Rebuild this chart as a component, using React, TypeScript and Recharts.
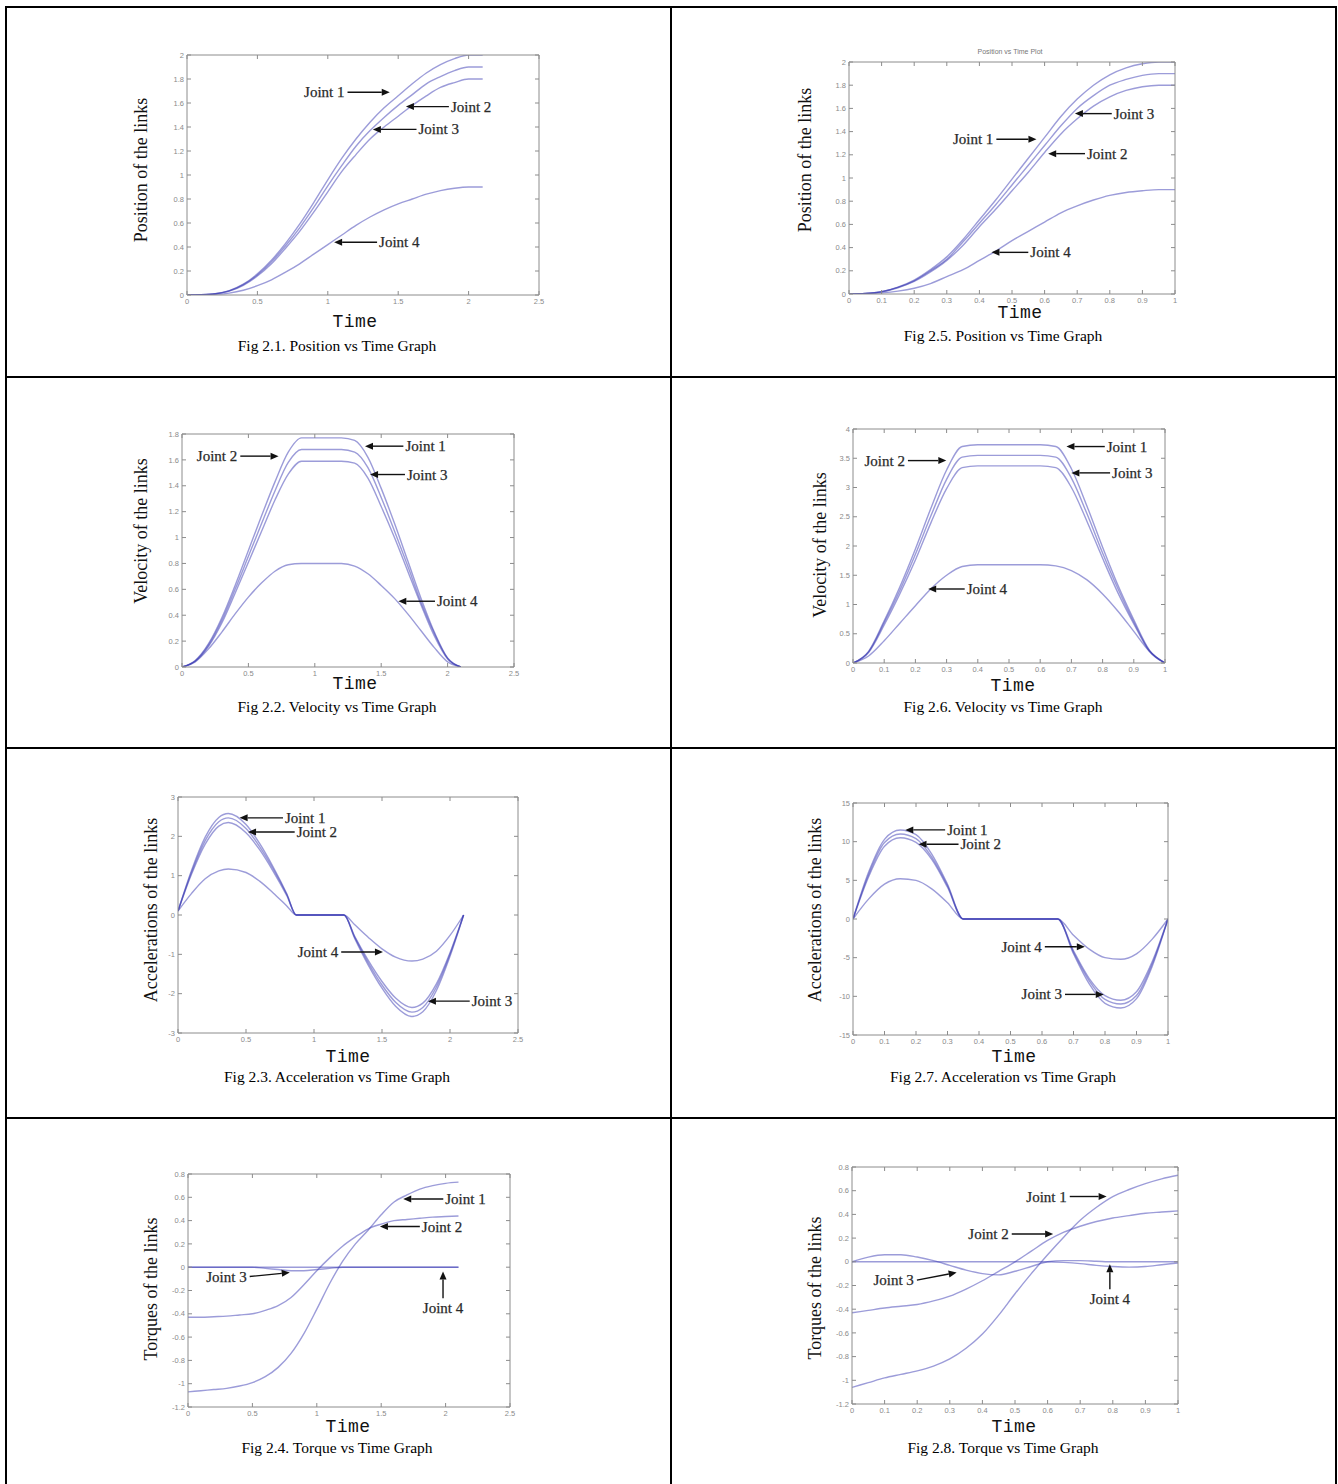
import React from 'react';
import { LineChart, Line, XAxis, YAxis, ReferenceLine } from 'recharts';

// time bases
const TIME_LONG = [0, 0.1, 0.2, 0.3, 0.4, 0.5, 0.6, 0.7, 0.8, 0.9, 1.0, 1.1, 1.2, 1.3, 1.4, 1.5, 1.6, 1.7, 1.8, 1.9, 2.0, 2.1];
const TIME_SHORT = [0, 0.05, 0.1, 0.15, 0.2, 0.25, 0.3, 0.35, 0.4, 0.45, 0.5, 0.55, 0.6, 0.65, 0.7, 0.75, 0.8, 0.85, 0.9, 0.95, 1.0];
const TIME_ACC_LONG = [0, 0.1, 0.2, 0.3, 0.37, 0.5, 0.6, 0.7, 0.8, 0.87, 1.0, 1.1, 1.22, 1.3, 1.4, 1.5, 1.6, 1.72, 1.8, 1.9, 2.0, 2.1];
const TIME_ACC_SHORT = [0, 0.05, 0.1, 0.15, 0.2, 0.25, 0.3, 0.35, 0.4, 0.5, 0.6, 0.65, 0.7, 0.75, 0.8, 0.85, 0.9, 0.95, 1.0];

// Fig 2.1 position
const POS_A_J1 = [0, 0.002, 0.01, 0.036, 0.09, 0.176, 0.29, 0.43, 0.59, 0.77, 0.96, 1.14, 1.3, 1.44, 1.56, 1.66, 1.76, 1.85, 1.92, 1.97, 2.0, 2.0];
const POS_A_J2 = [0, 0.002, 0.01, 0.034, 0.086, 0.167, 0.276, 0.41, 0.56, 0.73, 0.91, 1.08, 1.24, 1.37, 1.48, 1.58, 1.67, 1.76, 1.82, 1.87, 1.9, 1.9];
const POS_A_J3 = [0, 0.002, 0.009, 0.032, 0.081, 0.158, 0.26, 0.39, 0.53, 0.69, 0.86, 1.03, 1.17, 1.3, 1.4, 1.49, 1.58, 1.66, 1.73, 1.77, 1.8, 1.8];
const POS_A_J4 = [0, 0.001, 0.005, 0.016, 0.04, 0.078, 0.127, 0.19, 0.26, 0.34, 0.42, 0.5, 0.58, 0.65, 0.71, 0.76, 0.8, 0.84, 0.87, 0.89, 0.9, 0.9];

// Fig 2.5 position
const POS_B_J1 = [0, 0.004, 0.02, 0.06, 0.12, 0.21, 0.32, 0.47, 0.64, 0.81, 0.99, 1.17, 1.35, 1.53, 1.68, 1.8, 1.89, 1.95, 1.985, 2.0, 2.0];
const POS_B_J2 = [0, 0.004, 0.019, 0.057, 0.114, 0.2, 0.3, 0.45, 0.61, 0.77, 0.94, 1.11, 1.28, 1.45, 1.6, 1.71, 1.8, 1.85, 1.885, 1.9, 1.9];
const POS_B_J3 = [0, 0.004, 0.018, 0.054, 0.108, 0.19, 0.29, 0.42, 0.58, 0.73, 0.89, 1.05, 1.22, 1.38, 1.51, 1.62, 1.7, 1.755, 1.787, 1.8, 1.8];
const POS_B_J4 = [0, 0.002, 0.01, 0.025, 0.05, 0.09, 0.15, 0.21, 0.29, 0.37, 0.46, 0.54, 0.62, 0.7, 0.76, 0.81, 0.85, 0.875, 0.89, 0.9, 0.9];

// Fig 2.2 velocity
const VEL_A_J1 = [0, 0.05, 0.18, 0.38, 0.63, 0.9, 1.17, 1.43, 1.66, 1.77, 1.77, 1.77, 1.77, 1.75, 1.62, 1.38, 1.11, 0.82, 0.53, 0.27, 0.07, 0];
const VEL_A_J2 = [0, 0.047, 0.17, 0.36, 0.6, 0.855, 1.11, 1.36, 1.58, 1.68, 1.68, 1.68, 1.68, 1.66, 1.54, 1.31, 1.05, 0.78, 0.5, 0.26, 0.066, 0];
const VEL_A_J3 = [0, 0.045, 0.16, 0.34, 0.57, 0.81, 1.05, 1.29, 1.49, 1.59, 1.59, 1.59, 1.59, 1.575, 1.46, 1.24, 1.0, 0.74, 0.48, 0.24, 0.063, 0];
const VEL_A_J4 = [0, 0.04, 0.14, 0.27, 0.41, 0.54, 0.65, 0.74, 0.79, 0.8, 0.8, 0.8, 0.8, 0.78, 0.72, 0.63, 0.53, 0.41, 0.28, 0.15, 0.04, 0];

// Fig 2.6 velocity
const VEL_B_J1 = [0, 0.2, 0.72, 1.3, 1.95, 2.65, 3.3, 3.7, 3.73, 3.73, 3.73, 3.73, 3.73, 3.7, 3.32, 2.68, 1.98, 1.32, 0.74, 0.22, 0];
const VEL_B_J2 = [0, 0.19, 0.69, 1.24, 1.86, 2.52, 3.14, 3.52, 3.55, 3.55, 3.55, 3.55, 3.55, 3.52, 3.16, 2.55, 1.88, 1.26, 0.7, 0.21, 0];
const VEL_B_J3 = [0, 0.18, 0.65, 1.18, 1.76, 2.4, 2.98, 3.34, 3.37, 3.37, 3.37, 3.37, 3.37, 3.34, 3.0, 2.42, 1.79, 1.19, 0.67, 0.2, 0];
const VEL_B_J4 = [0, 0.12, 0.38, 0.68, 0.98, 1.27, 1.5, 1.65, 1.68, 1.68, 1.68, 1.68, 1.68, 1.66, 1.58, 1.42, 1.18, 0.88, 0.54, 0.2, 0];

// Fig 2.3 acceleration
const ACC_A_J1 = [0.1, 1.14, 1.98, 2.48, 2.58, 2.3, 1.82, 1.22, 0.54, 0, 0, 0, 0, -0.6, -1.28, -1.86, -2.32, -2.58, -2.46, -1.92, -1.05, 0];
const ACC_A_J2 = [0.1, 1.09, 1.89, 2.37, 2.47, 2.2, 1.74, 1.17, 0.52, 0, 0, 0, 0, -0.57, -1.22, -1.78, -2.22, -2.47, -2.35, -1.83, -1.0, 0];
const ACC_A_J3 = [0.1, 1.04, 1.8, 2.26, 2.35, 2.09, 1.66, 1.11, 0.49, 0, 0, 0, 0, -0.55, -1.16, -1.69, -2.11, -2.35, -2.24, -1.75, -0.96, 0];
const ACC_A_J4 = [0.1, 0.55, 0.92, 1.12, 1.17, 1.08, 0.86, 0.56, 0.23, 0, 0, 0, 0, -0.25, -0.57, -0.86, -1.07, -1.17, -1.12, -0.92, -0.52, 0];

// Fig 2.7 acceleration
const ACC_B_J1 = [0, 6.1, 10.3, 11.5, 10.9, 8.4, 4.5, 0, 0, 0, 0, 0, -4.5, -8.4, -10.9, -11.5, -10.3, -6.1, 0];
const ACC_B_J2 = [0, 5.8, 9.9, 11.0, 10.4, 8.0, 4.3, 0, 0, 0, 0, 0, -4.3, -8.0, -10.4, -11.0, -9.9, -5.8, 0];
const ACC_B_J3 = [0, 5.5, 9.4, 10.5, 9.9, 7.7, 4.1, 0, 0, 0, 0, 0, -4.1, -7.7, -9.9, -10.5, -9.4, -5.5, 0];
const ACC_B_J4 = [0, 2.6, 4.5, 5.2, 5.0, 3.9, 2.1, 0, 0, 0, 0, 0, -2.1, -3.9, -5.0, -5.2, -4.5, -2.6, 0];

// Fig 2.4 torque
const TRQ_A_J1 = [-1.07, -1.06, -1.05, -1.04, -1.02, -0.99, -0.94, -0.86, -0.74, -0.57, -0.36, -0.14, 0.05, 0.2, 0.32, 0.45, 0.56, 0.62, 0.67, 0.7, 0.72, 0.73];
const TRQ_A_J2 = [-0.43, -0.43, -0.425, -0.42, -0.41, -0.4, -0.37, -0.33, -0.26, -0.15, -0.03, 0.08, 0.18, 0.26, 0.33, 0.37, 0.4, 0.41, 0.42, 0.43, 0.435, 0.44];
const TRQ_A_J3 = [0, 0, 0, 0, 0, 0, -0.01, -0.02, -0.03, -0.03, -0.02, -0.01, 0, 0, 0, 0, 0, 0, 0, 0, 0, 0];
const TRQ_A_J4 = [0, 0, 0, 0, 0, 0, 0, 0, 0, 0, 0, 0, 0, 0, 0, 0, 0, 0, 0, 0, 0, 0];

// Fig 2.8 torque
const TRQ_B_J1 = [-1.06, -1.02, -0.98, -0.95, -0.92, -0.88, -0.82, -0.73, -0.61, -0.45, -0.27, -0.1, 0.06, 0.21, 0.35, 0.46, 0.55, 0.61, 0.66, 0.7, 0.73];
const TRQ_B_J2 = [-0.43, -0.41, -0.39, -0.375, -0.36, -0.33, -0.29, -0.23, -0.16, -0.08, 0.0, 0.09, 0.18, 0.25, 0.3, 0.34, 0.37, 0.39, 0.41, 0.42, 0.43];
const TRQ_B_J3 = [0, 0.04, 0.06, 0.06, 0.04, 0.01, -0.03, -0.07, -0.1, -0.11, -0.08, -0.04, 0, 0.01, 0.01, 0.005, 0, 0, 0, 0, 0];
const TRQ_B_J4 = [0, 0, 0, 0, 0, 0, 0, 0, 0, 0, 0, 0, 0, -0.005, -0.015, -0.03, -0.04, -0.045, -0.04, -0.025, -0.01];

const TICKS_X_LONG = [0, 0.5, 1, 1.5, 2, 2.5];
const TICKS_X_SHORT = [0, 0.1, 0.2, 0.3, 0.4, 0.5, 0.6, 0.7, 0.8, 0.9, 1];
const TICKS_POS = [0, 0.2, 0.4, 0.6, 0.8, 1, 1.2, 1.4, 1.6, 1.8, 2];
const TICKS_VEL_A = [0, 0.2, 0.4, 0.6, 0.8, 1, 1.2, 1.4, 1.6, 1.8];
const TICKS_VEL_B = [0, 0.5, 1, 1.5, 2, 2.5, 3, 3.5, 4];
const TICKS_ACC_A = [-3, -2, -1, 0, 1, 2, 3];
const TICKS_ACC_B = [-15, -10, -5, 0, 5, 10, 15];
const TICKS_TRQ = [-1.2, -1, -0.8, -0.6, -0.4, -0.2, 0, 0.2, 0.4, 0.6, 0.8];

type Note = { text: string; x1: number; y1: number; x2: number; y2: number };

const build = (t: number[], a: number[], b: number[], c: number[], d: number[]) =>
  t.map((v, i) => ({ t: v, j1: a[i], j2: b[i], j3: c[i], j4: d[i] }));

const panels = [
  {
    box: [187, 55, 539, 295], x: [0, 2.5], xt: TICKS_X_LONG, y: [0, 2], yt: TICKS_POS,
    data: build(TIME_LONG, POS_A_J1, POS_A_J2, POS_A_J3, POS_A_J4),
    ylabel: 'Position of the links', yl: [141, 170], time: [355, 322], cap: [337, 346],
    caption: 'Fig 2.1. Position vs Time Graph',
    notes: [
      { text: 'Joint 1', x1: 1.14, y1: 1.69, x2: 1.44, y2: 1.69 },
      { text: 'Joint 2', x1: 1.86, y1: 1.57, x2: 1.555, y2: 1.57 },
      { text: 'Joint 3', x1: 1.63, y1: 1.38, x2: 1.32, y2: 1.38 },
      { text: 'Joint 4', x1: 1.35, y1: 0.44, x2: 1.045, y2: 0.44 },
    ] as Note[],
  },
  {
    box: [849, 62, 1175, 294], x: [0, 1], xt: TICKS_X_SHORT, y: [0, 2], yt: TICKS_POS,
    data: build(TIME_SHORT, POS_B_J1, POS_B_J2, POS_B_J3, POS_B_J4),
    ylabel: 'Position of the links', yl: [805, 160], time: [1020, 313], cap: [1003, 336],
    caption: 'Fig 2.5. Position vs Time Graph', title: 'Position vs Time Plot',
    notes: [
      { text: 'Joint 3', x1: 0.806, y1: 1.555, x2: 0.693, y2: 1.555 },
      { text: 'Joint 1', x1: 0.452, y1: 1.334, x2: 0.575, y2: 1.334 },
      { text: 'Joint 2', x1: 0.724, y1: 1.21, x2: 0.611, y2: 1.21 },
      { text: 'Joint 4', x1: 0.55, y1: 0.359, x2: 0.437, y2: 0.359 },
    ] as Note[],
  },
  {
    box: [182, 434, 514, 667], x: [0, 2.5], xt: TICKS_X_LONG, y: [0, 1.8], yt: TICKS_VEL_A,
    data: build(TIME_LONG, VEL_A_J1, VEL_A_J2, VEL_A_J3, VEL_A_J4),
    ylabel: 'Velocity of the links', yl: [141, 531], time: [355, 684], cap: [337, 707],
    caption: 'Fig 2.2. Velocity vs Time Graph',
    notes: [
      { text: 'Joint 1', x1: 1.667, y1: 1.706, x2: 1.378, y2: 1.706 },
      { text: 'Joint 2', x1: 0.439, y1: 1.629, x2: 0.727, y2: 1.629 },
      { text: 'Joint 3', x1: 1.679, y1: 1.487, x2: 1.416, y2: 1.487 },
      { text: 'Joint 4', x1: 1.905, y1: 0.508, x2: 1.629, y2: 0.508 },
    ] as Note[],
  },
  {
    box: [853, 429, 1165, 663], x: [0, 1], xt: TICKS_X_SHORT, y: [0, 4], yt: TICKS_VEL_B,
    data: build(TIME_SHORT, VEL_B_J1, VEL_B_J2, VEL_B_J3, VEL_B_J4),
    ylabel: 'Velocity of the links', yl: [820, 545], time: [1013, 686], cap: [1003, 707],
    caption: 'Fig 2.6. Velocity vs Time Graph',
    notes: [
      { text: 'Joint 1', x1: 0.807, y1: 3.7, x2: 0.684, y2: 3.7 },
      { text: 'Joint 2', x1: 0.176, y1: 3.46, x2: 0.299, y2: 3.46 },
      { text: 'Joint 3', x1: 0.824, y1: 3.25, x2: 0.7, y2: 3.25 },
      { text: 'Joint 4', x1: 0.358, y1: 1.265, x2: 0.241, y2: 1.265 },
    ] as Note[],
  },
  {
    box: [178, 797, 518, 1033], x: [0, 2.5], xt: TICKS_X_LONG, y: [-3, 3], yt: TICKS_ACC_A,
    data: build(TIME_ACC_LONG, ACC_A_J1, ACC_A_J2, ACC_A_J3, ACC_A_J4),
    ylabel: 'Accelerations of the links', yl: [151, 910], time: [348, 1057], cap: [337, 1077],
    caption: 'Fig 2.3. Acceleration vs Time Graph',
    notes: [
      { text: 'Joint 1', x1: 0.772, y1: 2.47, x2: 0.453, y2: 2.47 },
      { text: 'Joint 2', x1: 0.858, y1: 2.11, x2: 0.515, y2: 2.11 },
      { text: 'Joint 4', x1: 1.2, y1: -0.94, x2: 1.507, y2: -0.94 },
      { text: 'Joint 3', x1: 2.145, y1: -2.19, x2: 1.838, y2: -2.19 },
    ] as Note[],
  },
  {
    box: [853, 803, 1168, 1035], x: [0, 1], xt: TICKS_X_SHORT, y: [-15, 15], yt: TICKS_ACC_B,
    data: build(TIME_ACC_SHORT, ACC_B_J1, ACC_B_J2, ACC_B_J3, ACC_B_J4),
    ylabel: 'Accelerations of the links', yl: [815, 910], time: [1014, 1057], cap: [1003, 1077],
    caption: 'Fig 2.7. Acceleration vs Time Graph',
    notes: [
      { text: 'Joint 1', x1: 0.2925, y1: 11.52, x2: 0.166, y2: 11.52 },
      { text: 'Joint 2', x1: 0.335, y1: 9.67, x2: 0.208, y2: 9.67 },
      { text: 'Joint 4', x1: 0.609, y1: -3.58, x2: 0.736, y2: -3.58 },
      { text: 'Joint 3', x1: 0.673, y1: -9.75, x2: 0.796, y2: -9.75 },
    ] as Note[],
  },
  {
    box: [188, 1174, 510, 1407], x: [0, 2.5], xt: TICKS_X_LONG, y: [-1.2, 0.8], yt: TICKS_TRQ,
    data: build(TIME_LONG, TRQ_A_J1, TRQ_A_J2, TRQ_A_J3, TRQ_A_J4),
    ylabel: 'Torques of the links', yl: [151, 1289], time: [348, 1427], cap: [337, 1448],
    caption: 'Fig 2.4. Torque vs Time Graph',
    notes: [
      { text: 'Joint 1', x1: 1.982, y1: 0.586, x2: 1.671, y2: 0.586 },
      { text: 'Joint 2', x1: 1.8, y1: 0.349, x2: 1.49, y2: 0.349 },
      { text: 'Joint 3', x1: 0.479, y1: -0.08, x2: 0.79, y2: -0.046 },
      { text: 'Joint 4', x1: 1.98, y1: -0.266, x2: 1.98, y2: -0.037 },
    ] as Note[],
  },
  {
    box: [852, 1167, 1178, 1404], x: [0, 1], xt: TICKS_X_SHORT, y: [-1.2, 0.8], yt: TICKS_TRQ,
    data: build(TIME_SHORT, TRQ_B_J1, TRQ_B_J2, TRQ_B_J3, TRQ_B_J4),
    ylabel: 'Torques of the links', yl: [815, 1288], time: [1014, 1427], cap: [1003, 1448],
    caption: 'Fig 2.8. Torque vs Time Graph',
    notes: [
      { text: 'Joint 1', x1: 0.668, y1: 0.551, x2: 0.781, y2: 0.551 },
      { text: 'Joint 2', x1: 0.49, y1: 0.234, x2: 0.617, y2: 0.234 },
      { text: 'Joint 3', x1: 0.199, y1: -0.155, x2: 0.321, y2: -0.09 },
      { text: 'Joint 4', x1: 0.791, y1: -0.232, x2: 0.791, y2: -0.02 },
    ] as Note[],
  },
];

const fmt = (v: number) => String(Number(v.toFixed(2)));

const arrow = (text: string) => (p: any) => {
  const { x1, y1, x2, y2 } = p;
  const dx = x2 - x1;
  const dy = y2 - y1;
  const len = Math.hypot(dx, dy) || 1;
  const ux = dx / len;
  const uy = dy / len;
  const bx = x2 - ux * 8;
  const by = y2 - uy * 8;
  const pts = `${x2},${y2} ${bx - uy * 3.5},${by + ux * 3.5} ${bx + uy * 3.5},${by - ux * 3.5}`;
  let tx = x1;
  let ty = y1;
  let anchor: any = 'middle';
  if (Math.abs(dx) < 1) {
    ty = y1 + 10;
  } else if (dx > 0) {
    tx = x1 - 3;
    anchor = 'end';
  } else {
    tx = x1 + 2;
    anchor = 'start';
  }
  return (
    <g>
      <line x1={x1} y1={y1} x2={bx} y2={by} stroke="#111" strokeWidth={1.4} />
      <polygon points={pts} fill="#111" />
      <text x={tx} y={ty} textAnchor={anchor} dominantBaseline="central" fontFamily="'Liberation Serif', serif" fontSize={15}
        fill="#2a2a2a" stroke="#2a2a2a" strokeWidth={0.25}>
        {text}
      </text>
    </g>
  );
};

const TICK_STYLE = { fontSize: 7.5, fill: '#8a8a8a', fontFamily: "'Liberation Sans', sans-serif" };
const AXIS_COLOR = '#8c8c8c';
const SERIES = ['j1', 'j2', 'j3', 'j4'];
const NO_TICK = () => <g />;

function Panel({ cfg }: { cfg: any }) {
  const [x0, y0, x1, y1] = cfg.box;
  const L = 40, T = 10, R = 20, B = 20;
  const w = x1 - x0;
  const h = y1 - y0;
  return (
    <>
      <div style={{ position: 'absolute', left: x0 - L, top: y0 - T }}>
        <LineChart width={L + w + R} height={T + h + B} data={cfg.data} margin={{ top: T - 1, right: R - 1, left: 0, bottom: 0 }}>
          <XAxis dataKey="t" type="number" domain={cfg.x} ticks={cfg.xt} height={B} tickSize={-4} tickMargin={8}
            tick={TICK_STYLE} tickFormatter={fmt} stroke={AXIS_COLOR} interval={0} allowDataOverflow />
          <XAxis xAxisId="top" dataKey="t" orientation="top" type="number" domain={cfg.x} ticks={cfg.xt} height={1} tickSize={-4}
            tick={NO_TICK} stroke={AXIS_COLOR} interval={0} allowDataOverflow />
          <YAxis type="number" domain={cfg.y} ticks={cfg.yt} width={L} tickSize={-4} tickMargin={7}
            tick={TICK_STYLE} tickFormatter={fmt} stroke={AXIS_COLOR} interval={0} allowDataOverflow />
          <YAxis yAxisId="right" orientation="right" type="number" domain={cfg.y} ticks={cfg.yt} width={1} tickSize={-4}
            tick={NO_TICK} stroke={AXIS_COLOR} interval={0} allowDataOverflow />
          {SERIES.map((k) => (
            <Line key={k} dataKey={k} type="monotone" dot={false} stroke="#3a3ab4" strokeOpacity={0.5}
              strokeWidth={1.4} isAnimationActive={false} />
          ))}
          {cfg.notes.map((n: Note, i: number) => (
            <ReferenceLine key={i} segment={[{ x: n.x1, y: n.y1 }, { x: n.x2, y: n.y2 }]} ifOverflow="visible"
              shape={arrow(n.text)} />
          ))}
        </LineChart>
      </div>
      <div style={{ position: 'absolute', left: cfg.yl[0], top: cfg.yl[1], transform: 'translate(-50%,-50%) rotate(-90deg)',
        whiteSpace: 'nowrap', fontFamily: "'Liberation Serif', serif", fontSize: 18, color: '#111' }}>
        {cfg.ylabel}
      </div>
      <div style={{ position: 'absolute', left: cfg.time[0], top: cfg.time[1], transform: 'translate(-50%,-50%)',
        fontFamily: "'Liberation Mono', monospace", fontSize: 18, color: '#111', letterSpacing: 0.5 }}>
        Time
      </div>
      <div style={{ position: 'absolute', left: cfg.cap[0], top: cfg.cap[1], transform: 'translate(-50%,-50%)',
        whiteSpace: 'nowrap', fontFamily: "'Liberation Serif', serif", fontSize: 15.5, color: '#000' }}>
        {cfg.caption}
      </div>
      {cfg.title && (
        <div style={{ position: 'absolute', left: 1010, top: 51, transform: 'translate(-50%,-50%)', whiteSpace: 'nowrap',
          fontFamily: "'Liberation Sans', sans-serif", fontSize: 7, color: '#777' }}>
          {cfg.title}
        </div>
      )}
    </>
  );
}

const rule = (left: number, top: number, width: number, height: number) => (
  <div style={{ position: 'absolute', left, top, width, height, background: '#000' }} />
);

export default function App() {
  return (
    <div style={{ position: 'absolute', left: 0, top: 0, width: 1338, height: 1484, background: '#fff', overflow: 'hidden' }}>
      {rule(5, 6, 1332, 2)}
      {rule(5, 6, 2, 1478)}
      {rule(1335, 6, 2, 1478)}
      {rule(670, 6, 2, 1478)}
      {rule(5, 376, 1332, 2)}
      {rule(5, 747, 1332, 2)}
      {rule(5, 1117, 1332, 2)}
      {panels.map((p, i) => (
        <Panel key={i} cfg={p} />
      ))}
    </div>
  );
}
